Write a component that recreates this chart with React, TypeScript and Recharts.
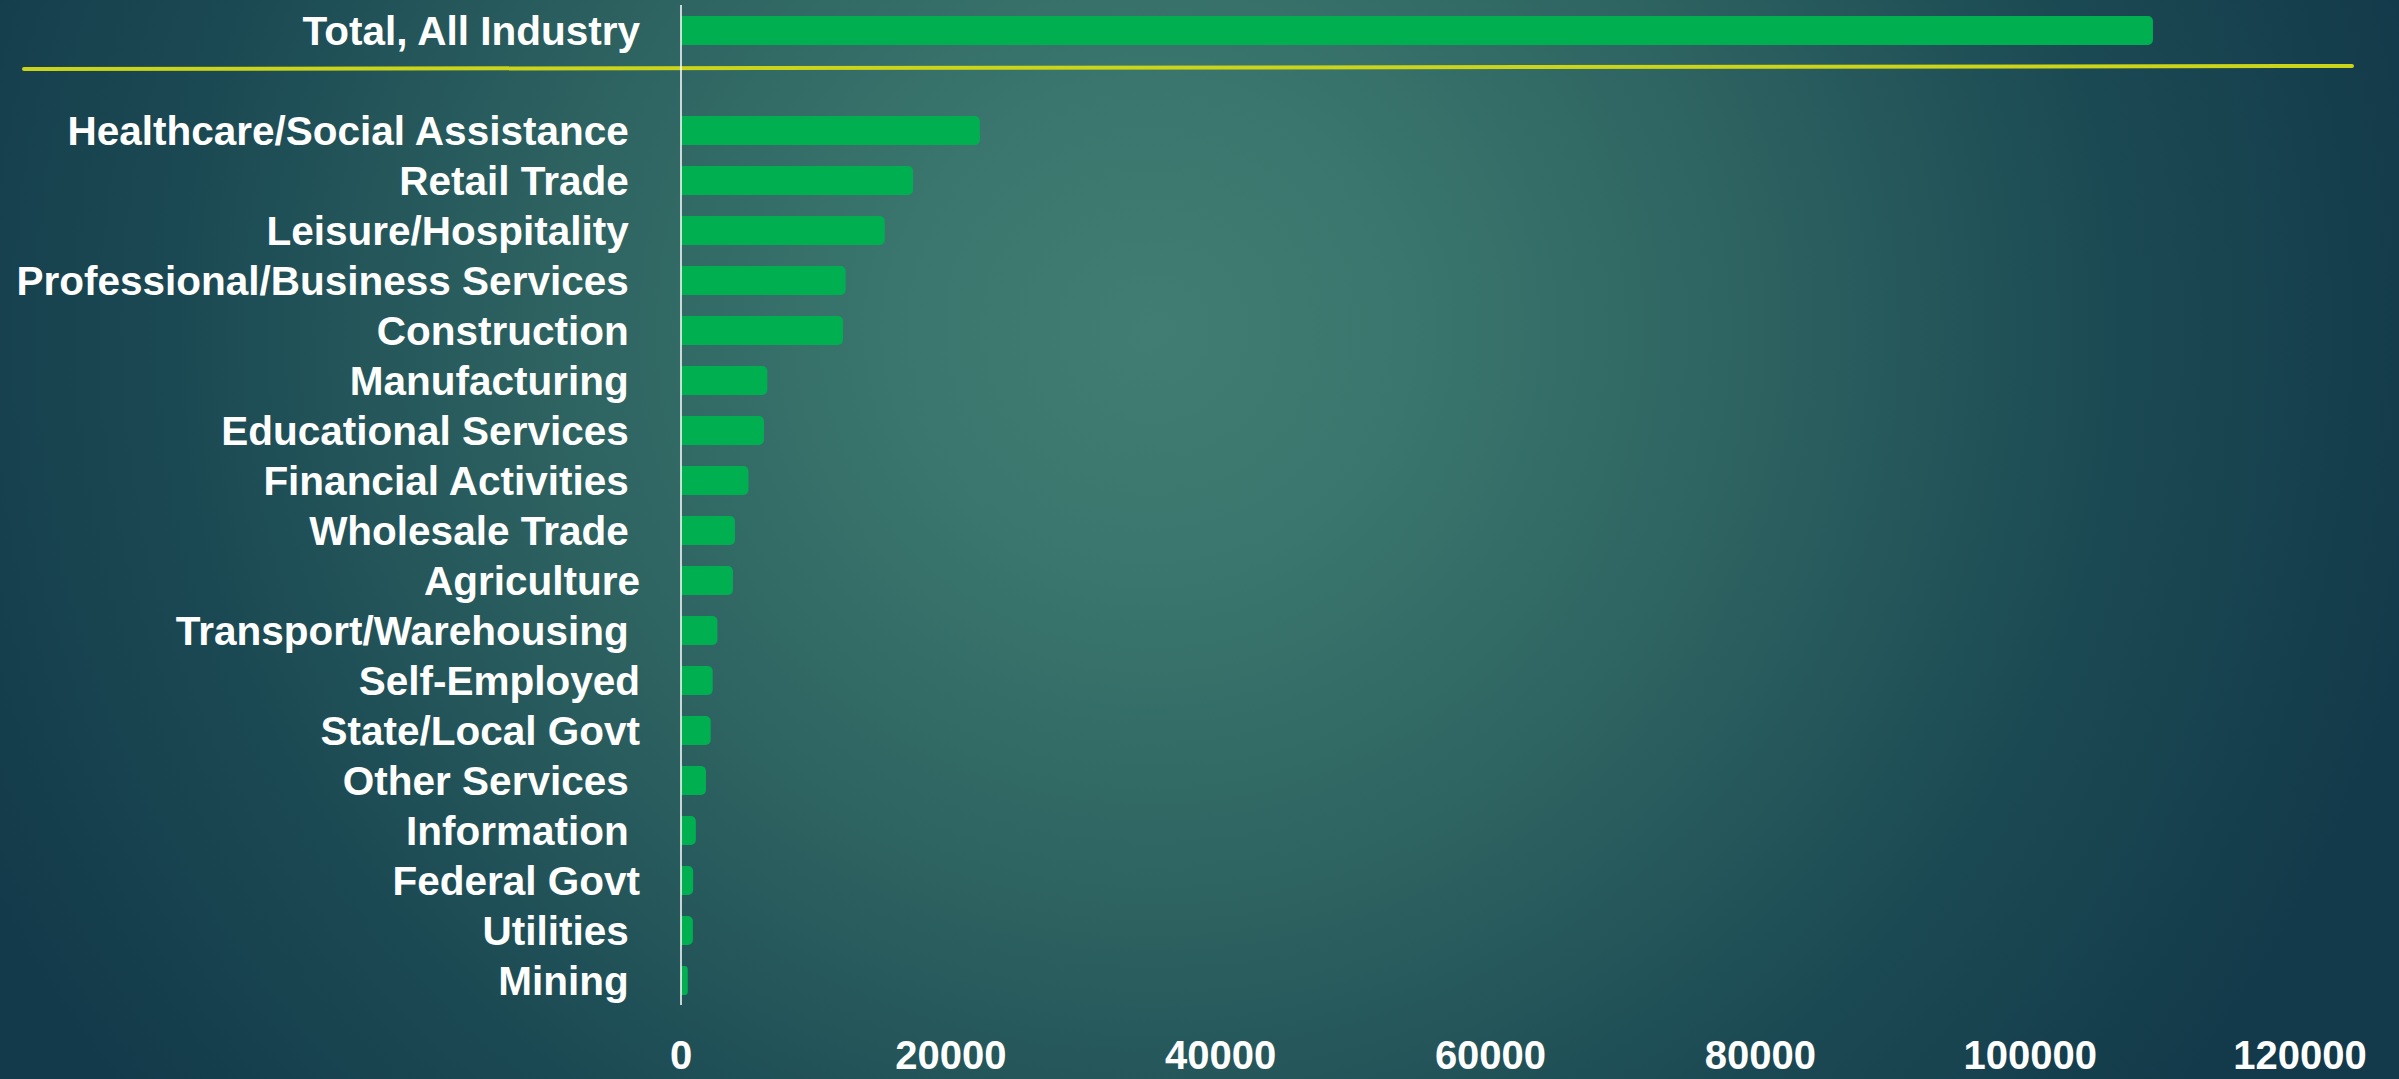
import { BarChart, Bar, XAxis, YAxis, ReferenceLine } from "recharts"

// trailing spaces are part of the original labels (they shift the text left)
const industries = [
  "Total, All Industry",
  "",
  "Healthcare/Social Assistance ",
  "Retail Trade ",
  "Leisure/Hospitality ",
  "Professional/Business Services ",
  "Construction ",
  "Manufacturing ",
  "Educational Services ",
  "Financial Activities ",
  "Wholesale Trade ",
  "Agriculture",
  "Transport/Warehousing ",
  "Self-Employed",
  "State/Local Govt",
  "Other Services ",
  "Information ",
  "Federal Govt",
  "Utilities ",
  "Mining ",
]

const jobs = [
  109100, null, 22150, 17200, 15100, 12200, 12000, 6400, 6150, 5000,
  4000, 3850, 2700, 2350, 2200, 1850, 1100, 900, 880, 500,
]

const xTicks = [0, 20000, 40000, 60000, 80000, 100000, 120000]

const data = industries.map((name, i) => ({ name, jobs: jobs[i] }))

const FONT = "'Liberation Sans', Arial, sans-serif"

function IndustryTick(props: any) {
  const { x, y, payload } = props
  return (
    <text
      x={x}
      y={y}
      dy="0.36em"
      textAnchor="end"
      fill="#ffffff"
      fontSize={40.5}
      fontWeight={700}
      fontFamily={FONT}
      style={{ whiteSpace: "pre" }}
    >
      {payload.value}
    </text>
  )
}

// yellow divider between the total and the industries
function Divider(props: any) {
  const { x1, x2, y1 } = props
  return (
    <line
      x1={x1 - 657}
      y1={y1 - 11}
      x2={x2 + 52}
      y2={y1 - 14}
      stroke="#c9d41b"
      strokeWidth={4}
      strokeLinecap="round"
    />
  )
}

export default function App() {
  return (
    <div
      style={{
        position: "absolute",
        top: 0,
        left: 0,
        width: 2399,
        height: 1079,
        overflow: "hidden",
        background:
          "radial-gradient(ellipse 1300px 1250px at 1150px 330px, #417d72 0%, #3a766d 20%, #2c6160 48%, #1b4953 75%, #133a4a 100%)",
      }}
    >
      <BarChart
        width={2399}
        height={1079}
        data={data}
        layout="vertical"
        margin={{ top: 5, right: 99, left: 0, bottom: 0 }}
        barSize={29}
      >
        <XAxis
          type="number"
          domain={[0, 120000]}
          ticks={xTicks}
          axisLine={false}
          tickLine={false}
          tickSize={0}
          tickMargin={36}
          height={74}
          interval={0}
          tick={{ fill: "#ffffff", fontSize: 40, fontWeight: 700, fontFamily: FONT }}
        />
        <YAxis
          type="category"
          dataKey="name"
          width={681}
          axisLine={{ stroke: "#ffffff", strokeWidth: 1.5 }}
          tickLine={false}
          tickSize={0}
          tickMargin={41}
          interval={0}
          tick={<IndustryTick />}
        />
        <Bar
          dataKey="jobs"
          fill="#00b050"
          radius={[0, 5, 5, 0]}
          isAnimationActive={false}
        />
        <ReferenceLine y="" shape={<Divider />} />
      </BarChart>
    </div>
  )
}
